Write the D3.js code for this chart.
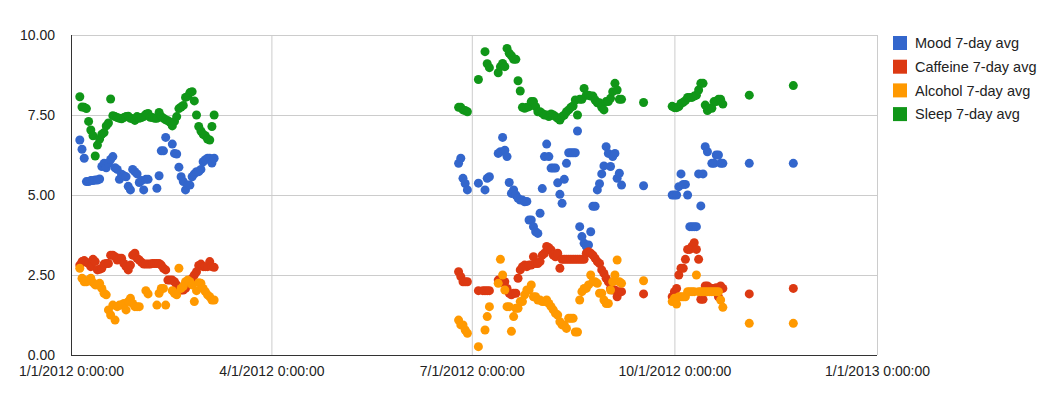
<!DOCTYPE html>
<html>
<head>
<meta charset="utf-8">
<script src="https://cdn.jsdelivr.net/npm/d3@7"></script>
<style>
  body { margin: 0; background: #fff; }
  text { font-family: Arial, "Liberation Sans", sans-serif; font-size: 14px; fill: #222; }
</style>
</head>
<body>
<script>
// one entry per logged day
const dates = [
  "2012-01-05","2012-01-06","2012-01-07","2012-01-08","2012-01-09","2012-01-10","2012-01-11","2012-01-12","2012-01-13","2012-01-14",
  "2012-01-15","2012-01-16","2012-01-17","2012-01-18","2012-01-19","2012-01-20","2012-01-21","2012-01-22","2012-01-23","2012-01-24",
  "2012-01-25","2012-01-26","2012-01-27","2012-01-28","2012-01-29","2012-01-30","2012-01-31",
  "2012-02-01","2012-02-02","2012-02-03","2012-02-04","2012-02-05","2012-02-06","2012-02-07","2012-02-08","2012-02-09","2012-02-10",
  "2012-02-11","2012-02-12","2012-02-13","2012-02-14","2012-02-15","2012-02-16","2012-02-17","2012-02-18","2012-02-19","2012-02-20",
  "2012-02-21","2012-02-22","2012-02-23","2012-02-24","2012-02-25","2012-02-26","2012-02-27","2012-02-28","2012-02-29",
  "2012-03-01","2012-03-02","2012-03-03","2012-03-04","2012-03-05","2012-03-06",
  "2012-06-25","2012-06-26","2012-06-27","2012-06-28","2012-06-29",
  "2012-07-04","2012-07-06","2012-07-07","2012-07-08","2012-07-09",
  "2012-07-13","2012-07-14","2012-07-15","2012-07-16","2012-07-17","2012-07-18","2012-07-19","2012-07-20","2012-07-21","2012-07-22",
  "2012-07-23","2012-07-24","2012-07-25","2012-07-26","2012-07-27","2012-07-28","2012-07-29","2012-07-30","2012-07-31",
  "2012-08-01","2012-08-02","2012-08-03","2012-08-04","2012-08-05","2012-08-06","2012-08-07","2012-08-08","2012-08-09","2012-08-10",
  "2012-08-11","2012-08-12","2012-08-13","2012-08-14","2012-08-15","2012-08-16","2012-08-17","2012-08-18","2012-08-19","2012-08-20",
  "2012-08-21","2012-08-22","2012-08-23","2012-08-24","2012-08-25","2012-08-26","2012-08-27","2012-08-28","2012-08-29","2012-08-30","2012-08-31",
  "2012-09-01","2012-09-02","2012-09-03","2012-09-04","2012-09-05","2012-09-06","2012-09-07",
  "2012-09-17","2012-09-30",
  "2012-10-01","2012-10-02","2012-10-03","2012-10-04","2012-10-05","2012-10-06","2012-10-07","2012-10-08","2012-10-09","2012-10-10",
  "2012-10-11","2012-10-12","2012-10-13","2012-10-14","2012-10-15","2012-10-16","2012-10-17","2012-10-18","2012-10-19","2012-10-20",
  "2012-10-21","2012-10-22","2012-10-23",
  "2012-11-04","2012-11-24"
];

const mood = [
  6.72,6.43,6.15,5.42,5.42,5.45,5.45,5.47,5.47,5.50,
  5.89,5.99,5.85,5.99,6.11,6.20,5.85,5.80,5.49,5.65,
  5.60,5.57,5.27,5.16,5.80,5.73,5.66,
  5.39,5.45,5.16,5.49,5.49,null,null,null,5.21,5.60,
  6.38,6.38,6.80,null,null,6.59,6.30,6.28,5.87,5.57,
  5.42,5.16,5.31,5.31,5.57,5.66,5.73,5.73,5.80,
  6.04,6.10,6.15,6.15,6.00,6.15,
  5.99,6.15,5.52,5.36,5.16,
  5.37,null,5.16,5.52,5.57,
  6.30,6.35,6.80,6.40,6.20,5.39,5.05,5.16,5.00,4.90,
  4.84,4.84,4.79,4.80,4.22,4.22,4.01,3.85,3.80,
  4.43,5.20,6.20,6.59,6.20,5.84,5.84,5.84,5.38,5.02,
  4.74,5.49,5.99,6.32,6.32,6.32,6.32,7.00,4.01,3.70,
  3.49,3.39,3.44,3.85,4.65,4.65,5.16,5.35,5.66,5.91,6.51,
  6.30,5.89,6.20,6.30,5.52,5.68,5.31,
  5.29,5.00,
  5.00,5.00,5.26,5.66,5.33,5.33,5.00,4.01,4.01,4.01,
  4.01,5.66,4.66,5.66,6.51,6.35,null,5.99,5.99,6.25,
  6.25,5.99,5.99,
  5.99,5.99
];

const caffeine = [
  2.81,2.92,2.95,2.90,2.86,2.76,2.99,2.92,2.66,2.68,
  2.71,2.84,2.86,2.86,3.12,3.12,3.07,2.97,3.02,3.02,
  2.86,2.76,2.66,2.81,3.12,3.18,3.02,
  2.97,2.90,2.84,2.84,2.84,2.84,2.86,2.86,2.86,2.86,
  2.81,2.71,2.66,2.34,2.34,2.34,2.29,2.19,2.08,2.03,
  2.03,2.08,2.19,2.29,2.40,2.50,2.60,2.80,2.84,
  2.76,2.76,2.76,2.92,2.76,2.74,
  2.60,2.45,2.29,2.29,2.29,
  2.01,2.01,2.01,2.01,2.01,
  2.34,2.26,2.29,2.29,2.08,1.93,1.88,1.93,1.93,2.40,
  2.66,2.76,2.81,2.76,2.81,2.81,3.07,2.86,2.86,
  2.92,3.12,3.18,3.39,3.35,3.28,3.12,3.07,3.18,2.71,
  2.99,2.99,2.99,2.99,2.99,2.99,2.99,2.99,2.99,2.99,
  2.99,3.18,3.23,3.18,3.12,3.02,2.92,2.86,2.66,2.55,2.40,
  2.29,2.08,2.03,2.03,1.82,1.98,1.98,
  1.91,1.82,
  1.98,2.08,2.50,2.71,2.71,2.99,3.30,3.30,3.40,3.51,
  3.30,2.99,1.74,1.74,2.16,2.16,2.10,2.08,2.08,2.10,
  1.82,2.16,2.08,
  1.91,2.08
];

const alcohol = [
  2.71,2.40,2.29,2.29,2.34,2.40,2.26,2.19,2.19,2.24,
  2.08,1.93,1.88,1.41,1.25,1.56,1.09,1.51,1.56,1.56,
  1.61,1.41,1.67,1.77,1.61,1.51,1.51,
  1.51,null,null,2.01,1.91,null,null,null,1.56,1.93,
  2.08,2.08,1.56,null,null,2.01,1.93,1.88,2.71,2.08,
  2.15,2.29,2.34,2.29,2.19,1.67,2.01,2.26,2.24,
  2.08,1.98,1.88,1.82,1.72,1.72,
  1.09,0.94,0.94,0.78,0.68,
  0.26,null,0.78,1.20,1.51,
  2.24,2.99,2.50,2.03,1.51,1.51,0.74,1.20,1.46,1.46,
  1.67,1.67,1.88,2.03,2.03,2.19,1.82,1.82,1.72,
  1.72,1.67,1.67,1.72,1.61,1.51,1.41,1.30,1.25,1.04,
  0.94,0.94,0.83,1.15,1.15,1.15,0.72,0.72,1.72,1.98,
  2.08,2.08,2.19,2.50,2.29,2.29,2.24,1.93,1.93,1.72,1.61,
  1.61,2.03,2.29,2.50,2.97,2.29,2.24,
  2.32,1.67,
  1.77,1.59,1.82,1.82,1.82,1.82,1.98,1.98,1.98,1.98,
  2.50,1.98,1.98,1.98,1.98,1.98,1.98,1.98,1.98,1.98,
  1.98,1.72,1.49,
  0.99,0.99
];

const sleep = [
  8.07,7.75,7.74,7.70,7.30,7.03,6.85,6.22,6.56,6.75,
  6.90,6.95,7.16,7.25,8.00,7.48,7.45,7.42,7.40,7.38,
  7.42,7.45,7.46,7.40,7.38,7.33,7.45,
  7.40,7.42,7.45,7.52,7.55,7.43,7.42,7.40,7.40,7.58,
  7.45,7.40,7.35,7.32,7.27,7.16,7.30,7.45,7.70,7.75,
  7.80,8.05,8.08,8.20,8.23,7.94,7.50,7.14,7.00,
  6.90,6.85,6.75,6.72,7.14,7.50,
  7.74,7.74,7.66,7.64,7.60,
  8.61,null,9.48,9.10,8.98,
  8.82,9.01,9.11,9.01,9.58,9.43,9.35,9.24,9.24,8.57,
  8.25,7.74,7.71,7.74,7.76,7.92,7.92,7.76,7.60,
  7.60,7.55,7.50,7.50,7.45,7.53,7.50,7.45,7.40,7.34,
  7.45,7.50,7.60,7.66,7.74,7.78,7.97,7.50,7.99,7.99,
  8.33,8.12,8.12,8.09,8.09,7.97,7.88,7.88,7.74,7.66,7.92,
  7.92,8.02,8.23,8.49,8.28,7.99,7.99,
  7.89,7.77,
  7.73,7.73,7.76,7.86,7.90,7.95,8.05,8.05,8.05,8.09,
  8.12,8.28,8.49,8.49,7.81,7.64,7.71,7.71,7.92,7.92,
  7.99,7.99,7.84,
  8.12,8.42
];

const seriesNames = ["Mood 7-day avg", "Caffeine 7-day avg", "Alcohol 7-day avg", "Sleep 7-day avg"];
const seriesValues = [mood, caffeine, alcohol, sleep];
const colors = ["#3366cc", "#dc3912", "#ff9900", "#109618"];

const xTicks = ["2012-01-01", "2012-04-01", "2012-07-01", "2012-10-01", "2013-01-01"];
const yTicks = [0, 2.5, 5, 7.5, 10];

const margin = { top: 35, left: 71 };
const width = 806;
const height = 320;

const svg = d3.select('body').append('svg')
    .attr('width', 1043)
    .attr('height', 395);

const g = svg.append('g')
    .attr('transform', `translate(${margin.left},${margin.top})`);

const parse = d3.utcParse('%Y-%m-%d');

const x = d3.scaleUtc()
    .domain([parse(xTicks[0]), parse(xTicks[xTicks.length - 1])])
    .range([0, width]);
const y = d3.scaleLinear().domain([0, 10]).range([height, 0]);

// gridlines + labels
const gy = g.append('g')
    .call(d3.axisLeft(y).tickValues(yTicks).tickFormat(d3.format('.2f')).tickSize(-width).tickPadding(16));
const gx = g.append('g')
    .attr('transform', `translate(0,${height})`)
    .call(d3.axisBottom(x).tickValues(xTicks.map(parse))
        .tickFormat(d3.utcFormat('%-m/%-d/%Y %-H:%M:%S')).tickSize(-height).tickPadding(11));

[gx, gy].forEach(a => {
    a.select('.domain').remove();
    a.selectAll('.tick line').attr('stroke', '#cccccc');
    a.selectAll('.tick text').attr('fill', '#222').style('font-size', '14px')
        .style('font-family', 'Arial, "Liberation Sans", sans-serif');
});

// dark axis lines
g.append('line').attr('x1', 0.5).attr('x2', 0.5).attr('y1', 0).attr('y2', height)
    .attr('stroke', '#333');
g.append('line').attr('x1', 0).attr('x2', width).attr('y1', height + 0.5).attr('y2', height + 0.5)
    .attr('stroke', '#333');

// points
seriesValues.forEach((vals, i) => {
    const pts = dates.map((d, j) => ({ date: parse(d), v: vals[j] })).filter(p => p.v != null);
    g.append('g').selectAll('circle')
        .data(pts)
        .join('circle')
        .attr('cx', d => x(d.date))
        .attr('cy', d => y(d.v))
        .attr('r', 4.5)
        .attr('fill', colors[i]);
});

// legend
const legend = svg.append('g').attr('transform', 'translate(893,36)');
const item = legend.selectAll('g')
    .data(seriesNames)
    .join('g')
    .attr('transform', (d, i) => `translate(0,${i * 23.7})`);
item.append('rect')
    .attr('width', 14).attr('height', 14)
    .attr('fill', (d, i) => colors[i]);
item.append('text')
    .attr('x', 22).attr('y', 12.3)
    .style('font-size', '14.5px')
    .text(d => d);
</script>
</body>
</html>
